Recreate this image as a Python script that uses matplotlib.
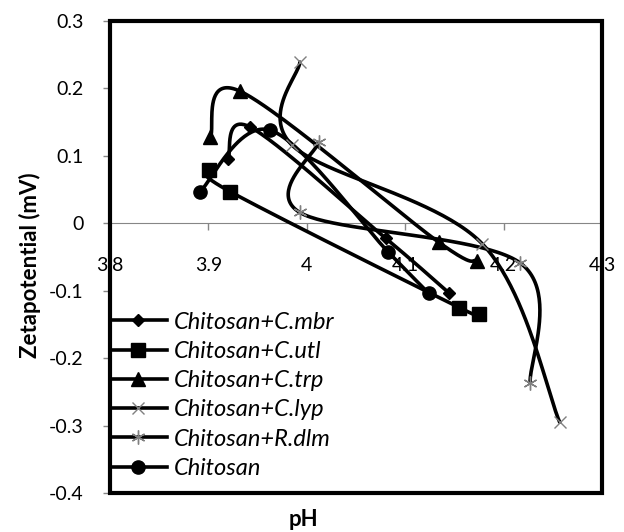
import matplotlib
matplotlib.use('Agg')
import matplotlib.pyplot as plt
import numpy as np
from matplotlib.patches import Rectangle
from matplotlib.lines import Line2D

plt.rcParams['font.family'] = ['Lato', 'DejaVu Sans']

# ---- data ----
mbr_x = [3.92, 3.942, 4.08, 4.145]
mbr_y = [0.096, 0.143, -0.022, -0.104]
utl_x = [3.901, 3.922, 4.155, 4.175]
utl_y = [0.079, 0.047, -0.125, -0.135]
trp_x = [3.902, 3.932, 4.134, 4.173]
trp_y = [0.128, 0.196, -0.028, -0.056]
lyp_x = [3.993, 3.985, 4.178, 4.257]
lyp_y = [0.239, 0.116, -0.030, -0.295]
dlm_x = [4.012, 3.993, 4.217, 4.227]
dlm_y = [0.120, 0.016, -0.059, -0.237]
chi_x = [3.891, 3.963, 4.083, 4.124]
chi_y = [0.046, 0.138, -0.043, -0.104]

labels = ['Chitosan+C.mbr', 'Chitosan+C.utl', 'Chitosan+C.trp',
          'Chitosan+C.lyp', 'Chitosan+R.dlm', 'Chitosan']
x_ticks = [3.8, 3.9, 4.0, 4.1, 4.2, 4.3]
x_tick_labels = ['3.8', '3.9', '4', '4.1', '4.2', '4.3']
y_ticks = [0.3, 0.2, 0.1, 0.0, -0.1, -0.2, -0.3, -0.4]
y_tick_labels = ['0.3', '0.2', '0.1', '0', '-0.1', '-0.2', '-0.3', '-0.4']

fig = plt.figure(figsize=(6.24, 5.32), dpi=100)
ax = fig.add_axes([110/624, 1-493/532, 492/624, 472/532])
ax.set_xlim(3.8, 4.3)
ax.set_ylim(-0.4, 0.3)


def smooth(xs, ys, n=50):
    pts = ax.transData.transform(np.column_stack([xs, ys]))
    P = np.vstack([pts[0], pts, pts[-1]])
    out = []
    for i in range(1, len(P) - 2):
        p0, p1 = P[i], P[i + 1]
        c1 = p0 + (P[i + 1] - P[i - 1]) / 6.0
        c2 = p1 - (P[i + 2] - P[i]) / 6.0
        t = np.linspace(0, 1, n)[:, None]
        seg = (1 - t)**3 * p0 + 3 * (1 - t)**2 * t * c1 + 3 * (1 - t) * t**2 * c2 + t**3 * p1
        out.append(seg if i == 1 else seg[1:])
    return ax.transData.inverted().transform(np.vstack(out))


series = [
    (mbr_x, mbr_y, dict(marker='D', markersize=6.5, mfc='black', mec='black')),
    (utl_x, utl_y, dict(marker='s', markersize=10, mfc='black', mec='black')),
    (trp_x, trp_y, dict(marker='^', markersize=10, mfc='black', mec='black')),
    (lyp_x, lyp_y, dict(marker='x', markersize=9, mfc='none', mec='#808080', mew=1.0)),
    (dlm_x, dlm_y, dict(marker=(6, 2, 0), markersize=10, mfc='none', mec='#808080', mew=1.0)),
    (chi_x, chi_y, dict(marker='o', markersize=9.5, mfc='black', mec='black')),
]

handles = []
for (xs, ys, mk), lab in zip(series, labels):
    sm = smooth(xs, ys)
    ax.plot(sm[:, 0], sm[:, 1], color='black', lw=2.6, zorder=3, solid_capstyle='round')
    ax.plot(xs, ys, linestyle='none', zorder=4, **mk)
    handles.append(Line2D([], [], color='black', lw=2.6, **mk))

# axes styling
for s in ['top', 'right']:
    ax.spines[s].set_visible(False)
ax.spines['left'].set_color('#868686')
ax.spines['bottom'].set_position(('data', 0))
ax.spines['bottom'].set_color('#868686')
ax.set_xticks(x_ticks)
ax.set_xticklabels(x_tick_labels)
ax.set_yticks(y_ticks)
ax.set_yticklabels(y_tick_labels)
ax.tick_params(axis='x', direction='out', length=5, width=1, color='#868686',
               pad=19, labelsize=14, labelcolor='black')
ax.tick_params(axis='y', direction='out', length=5, width=1, color='#868686',
               pad=14, labelsize=14, labelcolor='black')

ax.add_patch(Rectangle((0, 0), 1, 1, transform=ax.transAxes, fill=False,
                       lw=3, ec='black', zorder=20, clip_on=False))

leg = ax.legend(handles, labels, loc='lower left', bbox_to_anchor=(0, 0.03),
                frameon=False, borderpad=0, borderaxespad=0, handlelength=2.4,
                handletextpad=0.3, labelspacing=0.35,
                prop=dict(family=['Lato', 'DejaVu Sans'], style='italic', size=17))
leg.set_zorder(25)

fig.text(30/624, 1-265/532, 'Zetapotential (mV)', rotation=90, ha='center', va='center',
         fontsize=16, fontweight='bold')
fig.text(303/624, 1-519/532, 'pH', ha='center', va='center', fontsize=16, fontweight='bold')

fig.savefig('out.png', dpi=100)
